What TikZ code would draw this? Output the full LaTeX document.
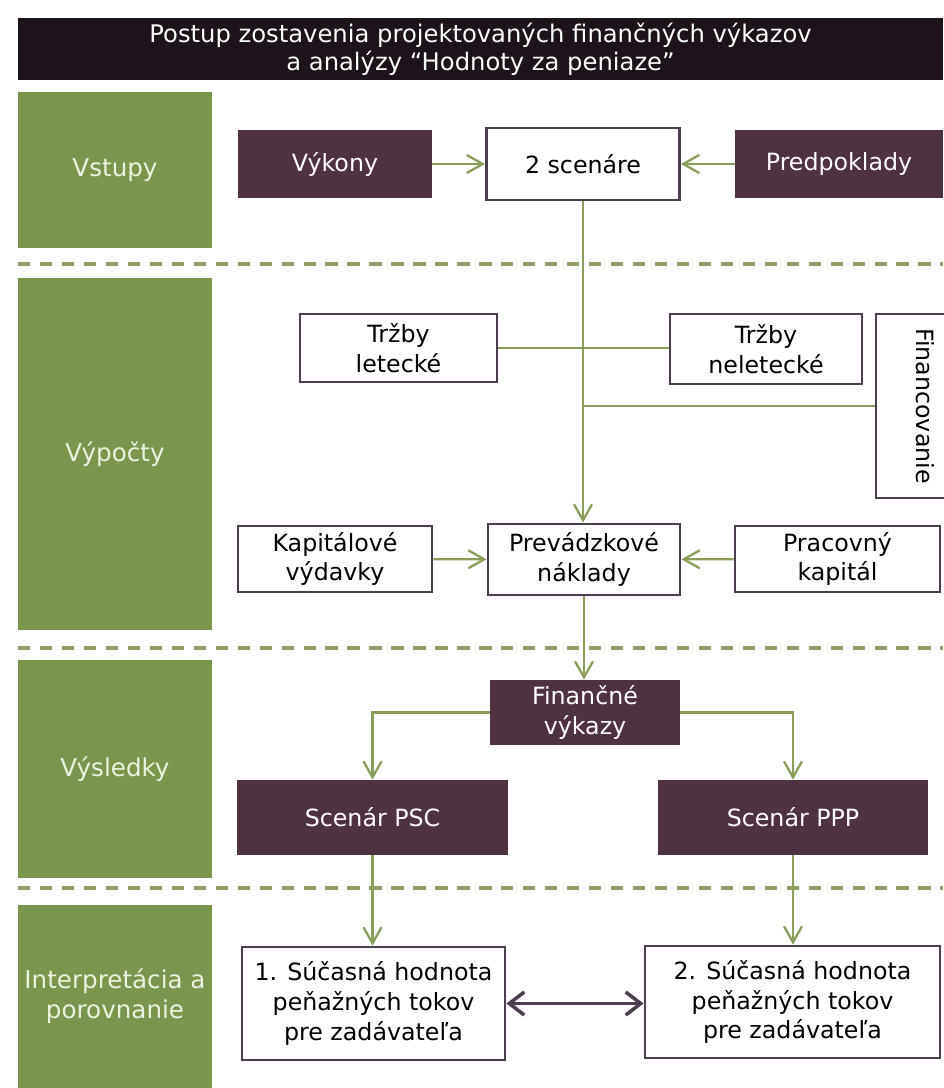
\documentclass[tikz,border=0pt]{standalone}
\usepackage{fontspec}
\setmainfont{DejaVu Sans}
\usepackage{tikz}
\usetikzlibrary{arrows.meta, positioning, calc}
\definecolor{mytitle}{RGB}{28,20,26}
\definecolor{mygreen}{RGB}{122,150,76}
\definecolor{myplum}{RGB}{78,50,66}
\definecolor{myline}{RGB}{138,158,92}
\definecolor{mydash}{RGB}{140,160,104}
\definecolor{myborder}{RGB}{76,62,78}
\definecolor{mypale}{RGB}{236,242,226}
\tikzset{
  boxfont/.style={font=\fontsize{13.5}{17}\selectfont},
  titlebar/.style={rectangle, fill=mytitle, text=white, align=center,
    font=\fontsize{13.8}{16}\selectfont, inner sep=2pt},
  darkblock/.style={rectangle, fill=myplum, text=white, align=center,
    inner sep=2pt, boxfont},
  whiteblock/.style={rectangle, draw=myborder, fill=white, text=black,
    align=center, line width=1.6pt, inner sep=2pt, boxfont},
  sideblock/.style={rectangle, fill=mygreen, text=mypale, align=center,
    minimum width=3.88cm, inner sep=1pt, font=\fontsize{14}{17}\selectfont},
  sepline/.style={mydash, line width=2pt, dash pattern=on 7pt off 5.5pt},
  arrow/.style={-{Straight Barb[length=0.32cm, width=0.36cm]},
    line width=1.3pt, color=myline},
  line/.style={line width=1.3pt, color=myline},
  duoarrow/.style={{Straight Barb[length=0.3cm, width=0.46cm]}-{Straight Barb[length=0.3cm, width=0.46cm]},
    line width=2pt, color=myborder}
}

\begin{document}
\begin{tikzpicture}[x=0.02cm, y=-0.02cm]
  \useasboundingbox (0,0) rectangle (943,1088);
  % Title
  \node[titlebar, minimum width=18.5cm, minimum height=1.24cm] (title) at (480.5,49)
       {Postup zostavenia projektovaných finančných výkazov\\a analýzy “Hodnoty za peniaze”};
  % Side panels
  \node[sideblock, minimum height=3.12cm] (vstupy) at (115,170) {Vstupy};
  \node[sideblock, minimum height=7.04cm] (vypocty) at (115,454) {Výpočty};
  \node[sideblock, minimum height=4.36cm] (vysledky) at (115,769) {Výsledky};
  \node[sideblock, minimum height=3.66cm] (interp) at (115,996.5) {Interpretácia a\\porovnanie};
  % Separators
  \draw[sepline] (18,264) -- (943,264);
  \draw[sepline] (18,648) -- (943,648);
  \draw[sepline] (18,888) -- (943,888);
  % Inputs
  \node[darkblock, minimum width=3.88cm, minimum height=1.38cm] (vykony) at (335,164) {Výkony};
  \node[whiteblock, minimum width=3.86cm, minimum height=1.44cm] (scenare) at (583,164) {2 scenáre};
  \node[darkblock, minimum width=4.16cm, minimum height=1.38cm] (predpoklady) at (839,164) {Predpoklady};
  % Calculations
  \node[whiteblock, minimum width=3.94cm, minimum height=1.36cm] (trzbyL) at (398.5,348) {Tržby\\letecké};
  \node[whiteblock, minimum width=3.84cm, minimum height=1.40cm] (trzbyN) at (766,349) {Tržby\\neletecké};
  \node[whiteblock, rotate=-90, minimum width=3.68cm, minimum height=1.96cm] (financ) at (925,406) {Financovanie};
  \node[whiteblock, minimum width=3.88cm, minimum height=1.32cm] (kapital) at (335,559) {Kapitálové\\výdavky};
  \node[whiteblock, minimum width=3.84cm, minimum height=1.42cm] (prevadzka) at (584,559.5) {Prevádzkové\\náklady};
  \node[whiteblock, minimum width=4.10cm, minimum height=1.32cm] (pracovny) at (837.5,559) {Pracovný\\kapitál};
  % Results
  \node[darkblock, minimum width=3.80cm, minimum height=1.30cm] (vykazy) at (585,712.5) {Finančné\\výkazy};
  \node[darkblock, minimum width=5.42cm, minimum height=1.50cm] (psc) at (372.5,817.5) {Scenár PSC};
  \node[darkblock, minimum width=5.40cm, minimum height=1.50cm] (ppp) at (793,817.5) {Scenár PPP};
  % Comparison
  \node[whiteblock, minimum width=5.26cm, minimum height=2.26cm] (hodnota1) at (373.5,1003.5)
       {1. Súčasná hodnota\\peňažných tokov\\pre zadávateľa};
  \node[whiteblock, minimum width=5.90cm, minimum height=2.24cm] (hodnota2) at (792.5,1002)
       {2. Súčasná hodnota\\peňažných tokov\\pre zadávateľa};
  % Connectors
  \draw[arrow] (vykony) -- (scenare);
  \draw[arrow] (predpoklady) -- (scenare);
  \draw[arrow] (scenare.south) -- (scenare.south |- prevadzka.north);
  \draw[line] (trzbyL.east) -- (trzbyL.east -| trzbyN.west);
  \draw[line] (financ.south) -- (financ.south -| scenare.south);
  \draw[arrow] (kapital) -- (prevadzka);
  \draw[arrow] (pracovny) -- (prevadzka);
  \draw[arrow] (prevadzka.south) -- (prevadzka.south |- vykazy.north);
  \draw[arrow] (vykazy.west) -| (psc.north);
  \draw[arrow] (vykazy.east) -| (ppp.north);
  \draw[arrow] (psc.south) -- (psc.south |- hodnota1.north);
  \draw[arrow] (ppp.south) -- (ppp.south |- hodnota2.north);
  \draw[duoarrow] (hodnota1.east) -- (hodnota1.east -| hodnota2.west);
\end{tikzpicture}
\end{document}
